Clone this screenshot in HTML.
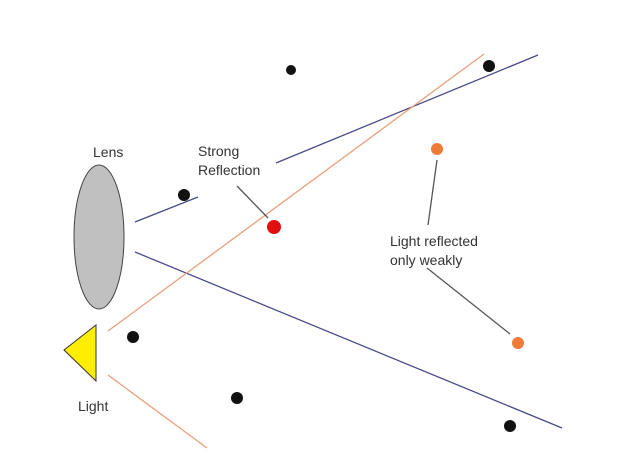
<!DOCTYPE html>
<html><head><style>body{margin:0;background:#fff}svg{display:block}text{font-family:"Liberation Sans","DejaVu Sans",sans-serif;font-size:14px;fill:#333}</style></head><body>
<svg width="628" height="451" viewBox="0 0 628 451">
<rect width="628" height="451" fill="#fff"/>
<g stroke-width="1.3">
<line x1="135" y1="222" x2="198" y2="197" stroke="#4a4a8a"/>
<line x1="276" y1="163" x2="538" y2="55" stroke="#4a4a8a"/>
<line x1="135" y1="252" x2="562" y2="428" stroke="#4a4a8a"/>
<line x1="108" y1="331" x2="484" y2="54" stroke="#e8a07a"/>
<line x1="108" y1="375" x2="207" y2="448" stroke="#e8a07a"/>
<line x1="237" y1="186" x2="268" y2="218" stroke="#555"/>
<line x1="437" y1="160" x2="428" y2="225" stroke="#555"/>
<line x1="427" y1="268" x2="510" y2="334" stroke="#555"/>
</g>
<ellipse cx="99" cy="237" rx="25" ry="72" fill="#c0c0c0" stroke="#444" stroke-width="1"/>
<polygon points="64,350 96,325 96,381" fill="#ffee00" stroke="#333" stroke-width="1"/>
<circle cx="274" cy="227" r="7" fill="#e01010"/>
<g fill="#111">
<circle cx="291" cy="70" r="5"/><circle cx="489" cy="66" r="6"/><circle cx="184" cy="195" r="6"/>
<circle cx="133" cy="337" r="6"/><circle cx="237" cy="398" r="6"/><circle cx="510" cy="426" r="6"/>
</g>
<g fill="#f07a38"><circle cx="437" cy="149" r="6"/><circle cx="518" cy="343" r="6"/></g>
<text x="93" y="157">Lens</text>
<text x="198" y="156">Strong</text>
<text x="198" y="175">Reflection</text>
<text x="78" y="411">Light</text>
<text x="390" y="246">Light reflected</text>
<text x="390" y="265">only weakly</text>
</svg>
</body></html>
